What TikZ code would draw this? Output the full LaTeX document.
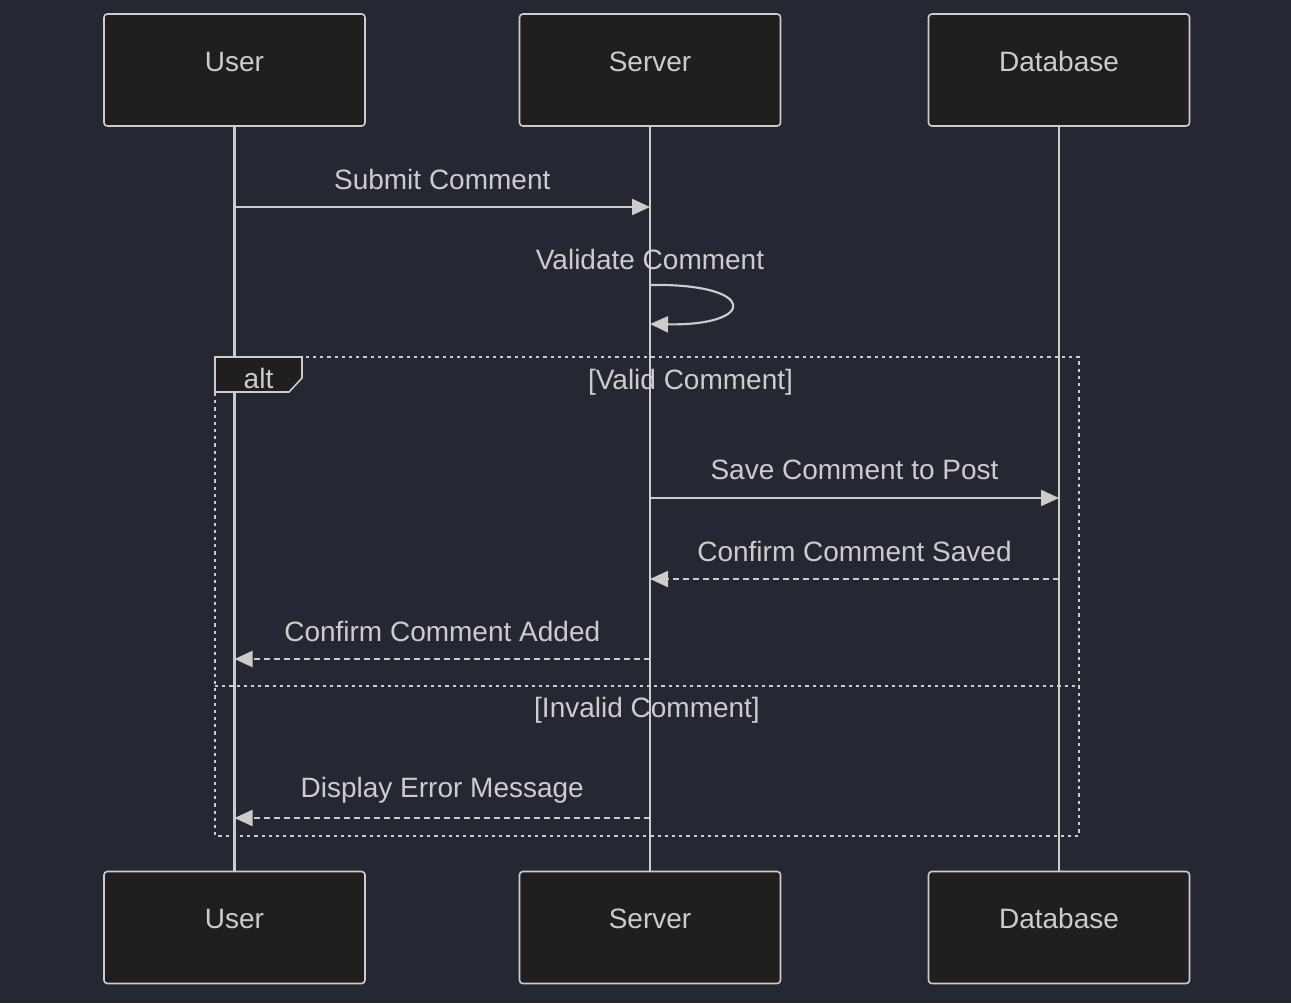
\documentclass[tikz,border=0pt]{standalone}
\usepackage{fontspec}
\setmainfont{Liberation Sans}
\usepackage{tikz}
\usetikzlibrary{arrows.meta, positioning, calc}
\definecolor{bgnavy}{HTML}{252833}
\definecolor{boxfill}{HTML}{1F1F1F}
\definecolor{linegray}{HTML}{CCCCCC}

\tikzset{
	actor/.style={draw=linegray, fill=boxfill, line width=1.2pt, rounded corners=2.5pt,
		minimum width=195.75pt, minimum height=84pt, text=linegray, text height=15pt, text depth=13.5pt},
	lifeline/.style={draw=linegray, line width=2pt},
	msg/.style={draw=linegray, line width=1.6pt, -{Triangle[length=13.5pt, width=12pt]}, linegray},
	reply/.style={msg, dash pattern=on 4.5pt off 3pt},
	frame/.style={draw=linegray, line width=2pt, dash pattern=on 2.4pt off 3pt},
	lbl/.style={midway, yshift=21pt, text=linegray},
}

\begin{document}
\begin{tikzpicture}[x=0.75pt, y=-0.75pt, font=\fontsize{21}{25}\selectfont]
			\fill[bgnavy] (0,0) rectangle (1291,1003);
			
			%% actors, top and bottom
			\node[actor] (user) at (234.5,70) {User};
			\node[actor] (server) at (650,70) {Server};
			\node[actor] (db) at (1059,70) {Database};
			\node[actor] (userB) at (234.5,927.5) {User};
			\node[actor] (serverB) at (650,927.5) {Server};
			\node[actor] (dbB) at (1059,927.5) {Database};
			
			\draw[lifeline] (user) -- (userB);
			\draw[lifeline] (server) -- (serverB);
			\draw[lifeline] (db) -- (dbB);
			
			%% alt frame
			\coordinate (altNW) at (215,357);
			\coordinate (altSE) at (1079,836);
			\draw[draw=linegray, fill=boxfill, line width=1.2pt] (altNW) -- ++(87,0) -- ++(0,21) -- ++(-13,14) -- (altNW |- 0,392) -- cycle;
			\draw[frame] (altNW) rectangle (altSE);
			\draw[frame] (altNW |- 0,686) -- (altSE |- 0,686);
			\node[text=linegray] (altlbl) at (258.5,378) {alt};
			\node[text=linegray] (validlbl) at (690.5,382) {[Valid Comment]};
			\node[text=linegray] (invalidlbl) at (647,710) {[Invalid Comment]};
			
			%% points on the lifelines
			\coordinate (u1) at (user |- 0,207);
			\coordinate (s1) at (server |- 0,207);
			\coordinate (s2) at (server |- 0,285);
			\coordinate (s3) at (server |- 0,324);
			\coordinate (s4) at (server |- 0,498);
			\coordinate (d4) at (db |- 0,498);
			\coordinate (d5) at (db |- 0,579);
			\coordinate (s5) at (server |- 0,579);
			\coordinate (s6) at (server |- 0,659);
			\coordinate (u6) at (user |- 0,659);
			\coordinate (s7) at (server |- 0,818);
			\coordinate (u7) at (user |- 0,818);
			
			%% messages
			\draw[msg] (u1) -- node[lbl] {Submit Comment} (s1);
			\node[text=linegray] (vallbl) at (server |- 0,259) {Validate Comment};
			\draw[msg] (s2) .. controls (758,283) and (758,326) .. (s3);
			\draw[msg] (s4) -- node[lbl] {Save Comment to Post} (d4);
			\draw[reply] (d5) -- node[lbl] {Confirm Comment Saved} (s5);
			\draw[reply] (s6) -- node[lbl] {Confirm Comment Added} (u6);
			\draw[reply] (s7) -- node[lbl] {Display Error Message} (u7);
\end{tikzpicture}
\end{document}
